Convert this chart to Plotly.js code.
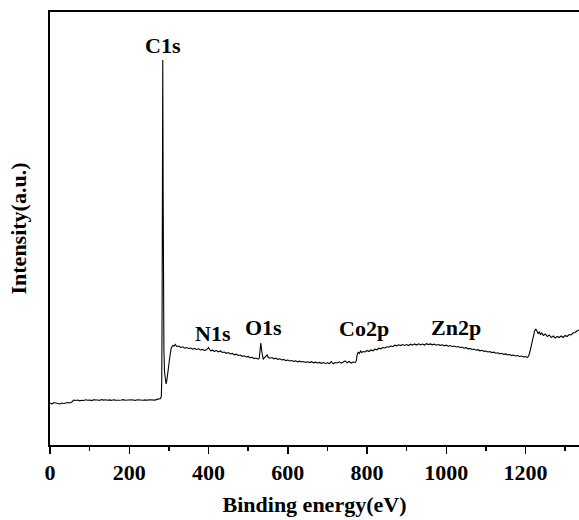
<!DOCTYPE html>
<html>
<head>
<meta charset="utf-8">
<script src="https://cdn.plot.ly/plotly-3.0.1.min.js"></script>
<style>html,body{margin:0;padding:0;background:#fff;}#chart{width:579px;height:520px;}</style>
</head>
<body>
<div id="chart"></div>
<script>
// Binding energy (eV)
const energy = [0,5,10,15,20,25,30,35,40,45,50,55,60,65,70,75,80,85,90,95,100,105,110,115,120,125,130,135,140,145,150,155,160,165,170,175,180,185,190,195,200,205,210,215,220,225,230,235,240,245,250,255,260,265,270,275,279,281,282,283,283.6,284.2,284.6,285,285.6,286.3,287.5,289,291,293,295,297,300,303,306,310,313,316,320,325,330,335,340,345,350,355,360,365,370,375,380,385,390,395,398,400,403,406,410,415,420,425,430,435,440,445,450,455,460,465,470,475,480,485,490,495,500,505,510,515,520,525,528,530,532,534,536,538,540,545,548,551,555,560,565,570,575,580,585,590,595,600,605,610,615,620,625,630,635,640,645,650,655,660,665,670,675,680,685,690,695,700,705,710,715,720,725,730,735,740,745,750,755,760,765,770,773,775,778,781,784,787,790,795,800,805,810,815,820,825,830,835,840,845,850,855,860,865,870,875,880,885,890,895,900,905,910,915,920,925,930,935,940,945,950,955,960,965,970,975,980,985,990,995,1000,1005,1010,1015,1020,1025,1030,1035,1040,1045,1050,1055,1060,1065,1070,1075,1080,1085,1090,1095,1100,1105,1110,1115,1120,1125,1130,1135,1140,1145,1150,1155,1160,1165,1170,1175,1180,1185,1190,1195,1200,1205,1208,1211,1214,1217,1220,1223,1226,1229,1232,1235,1238,1241,1245,1250,1255,1260,1265,1270,1275,1280,1285,1290,1295,1300,1305,1310,1315,1320,1325,1330,1335];
// Intensity (a.u.)
const intensity = [42,41,42.5,42,41.5,41,42,41.5,42,42.5,42,43,45,44.5,45,44.2,44.8,44.5,45.2,44.7,45,44.4,45.3,44.8,45,44.6,45.4,44.9,45.2,44.7,45.1,44.6,45.3,44.9,45.2,44.8,45,45.4,44.8,45.1,44.7,45.2,45,44.6,45.3,44.9,45.2,44.8,45.1,44.7,45.3,45,45.4,44.9,45.6,45.8,46.5,49,65,145,245,329,385,329,245,145,95,73,63,61,65,73,83,90,97,99.5,99,100.5,98.5,99,97.5,98.2,96.8,97.5,96.5,97,95.8,96.6,95.5,96.2,95,95.6,94.5,95.2,96.5,97.5,95.5,94.2,94.8,93.7,94.4,93.2,94,92.5,93,91.7,92.4,91,91.6,90.2,90.8,89.5,90,88.7,89.2,88,88.6,87.2,87.8,86.4,87,85.8,86.5,93,102,95,86.5,85.5,87,88.5,90,87.5,86.8,87.5,86.2,86.8,85.6,86.2,85,85.6,84.4,85,84,84.5,83.6,84.2,83.2,83.8,83,83.5,82.6,83.2,82.4,83.3,82.2,82.8,82,82.6,81.7,82.4,81.5,82.2,81.4,83.5,81.2,82.5,82,83.2,81.8,83,84,82.2,83.5,82,83,82.5,84,90,93,91.5,94,92.5,93.5,93,94.5,93.5,95,94.2,95.8,95.2,96.8,96.2,97.5,97,98.2,97.8,99,98.4,99.8,99.2,100.2,99.4,100.4,99.6,100.5,99.5,100.8,99.8,101,100,101.2,100.2,101,100,101.3,100.4,101.1,100.2,100.8,99.8,100.5,99.7,100.2,99.2,99.8,98.8,99.4,98.5,99,98,98.5,97.5,98,96.8,97.4,96.2,96.6,95.5,96,94.8,95.3,94.2,94.7,93.6,94,93,93.4,92.4,92.8,91.8,92.2,91.2,91.7,90.6,91.1,90,90.5,89.4,90,89,89.5,88.5,89,88,88.4,87.6,89,93,99,105,110,114,116,114,111.5,113,110.5,112,109.5,111,108.5,110,107.5,109,107,108.5,107.5,109,107.5,109.5,108.5,110.5,110,112,112.5,114,115];
// Peak labels
const peakLabels = ["C1s","N1s","O1s","Co2p","Zn2p"];
const peakLabelX = [285,411,540,792,1024];
const peakLabelY = [400,112,118,117,118];

const font = {family: "Liberation Serif, Times New Roman, serif", size: 22, color: "#000", weight: "bold"};

const annotations = peakLabels.map((t,i)=>({
  x: peakLabelX[i], y: peakLabelY[i], xref: "x", yref: "y",
  text: t, showarrow: false, font: font, xanchor: "center", yanchor: "middle"
}));
annotations.push({
  text: "Intensity(a.u.)", xref: "paper", yref: "paper", x: 0, y: 0.5,
  xshift: -32, textangle: -90, showarrow: false, font: font,
  xanchor: "center", yanchor: "middle"
});

Plotly.newPlot("chart", [{
  x: energy, y: intensity, type: "scatter", mode: "lines",
  line: {color: "#000", width: 1.1}, hoverinfo: "skip"
}], {
  width: 579, height: 520,
  margin: {l: 50, r: 0, t: 12, b: 75},
  paper_bgcolor: "#fff", plot_bgcolor: "#fff",
  showlegend: false,
  font: font,
  xaxis: {
    range: [0, 1335], dtick: 200, tick0: 0,
    ticks: "outside", ticklen: 7, tickwidth: 1.5, tickcolor: "#000",
    minor: {dtick: 100, ticks: "outside", ticklen: 4, tickwidth: 1.5, tickcolor: "#000"},
    showline: true, linecolor: "#000", linewidth: 2, mirror: true,
    showgrid: false, zeroline: false,
    tickfont: font,
    title: {text: "Binding energy(eV)", font: font, standoff: 12}
  },
  yaxis: {
    range: [0, 433],
    showticklabels: false, ticks: "",
    showline: true, linecolor: "#000", linewidth: 2, mirror: false,
    showgrid: false, zeroline: false
  },
  annotations: annotations
}, {displayModeBar: false, staticPlot: true});
</script>
</body>
</html>
